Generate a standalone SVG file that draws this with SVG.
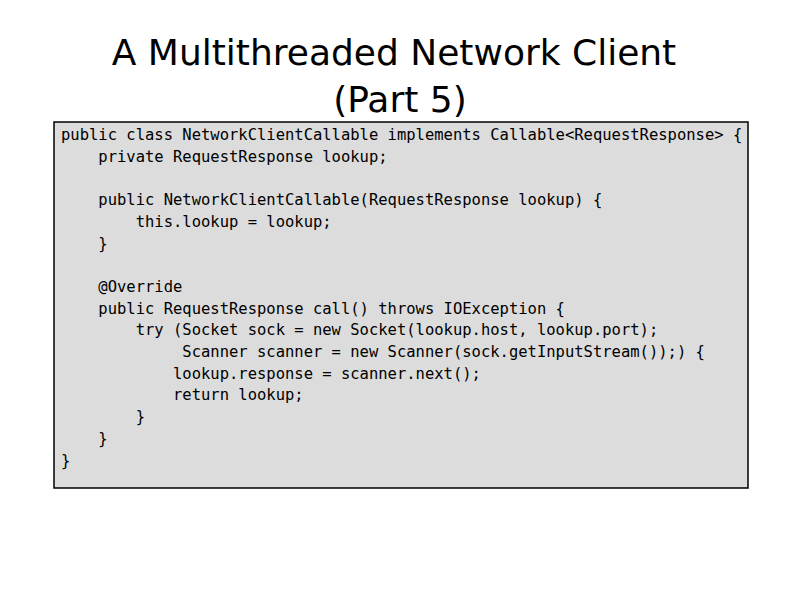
<svg xmlns="http://www.w3.org/2000/svg" width="800" height="600" viewBox="0 0 800 600">
<style>
.t{font-family:"DejaVu Sans",sans-serif;font-size:36px;fill:#000;text-anchor:middle}
.c{font-family:"DejaVu Sans Mono",monospace;font-size:15.5px;fill:#000;white-space:pre}
</style>
<rect width="800" height="600" fill="#fff"/>
<g id="title">
<text class="t" x="394" y="65">A Multithreaded Network Client</text>
<text class="t" x="400" y="112">(Part 5)</text>
</g>
<g id="code">
<rect x="54" y="122" width="694" height="366" fill="#dcdcdc" stroke="#000" stroke-width="1.5"/>
<text class="c" xml:space="preserve">
<tspan x="61" y="140">public class NetworkClientCallable implements Callable&lt;RequestResponse&gt; {</tspan>
<tspan x="61" y="161.7">    private RequestResponse lookup;</tspan>
<tspan x="61" y="205.1">    public NetworkClientCallable(RequestResponse lookup) {</tspan>
<tspan x="61" y="226.8">        this.lookup = lookup;</tspan>
<tspan x="61" y="248.5">    }</tspan>
<tspan x="61" y="291.9">    @Override</tspan>
<tspan x="61" y="313.6">    public RequestResponse call() throws IOException {</tspan>
<tspan x="61" y="335.3">        try (Socket sock = new Socket(lookup.host, lookup.port);</tspan>
<tspan x="61" y="357">             Scanner scanner = new Scanner(sock.getInputStream());) {</tspan>
<tspan x="61" y="378.7">            lookup.response = scanner.next();</tspan>
<tspan x="61" y="400.4">            return lookup;</tspan>
<tspan x="61" y="422.1">        }</tspan>
<tspan x="61" y="443.8">    }</tspan>
<tspan x="61" y="465.5">}</tspan>
</text>
</g>
</svg>
